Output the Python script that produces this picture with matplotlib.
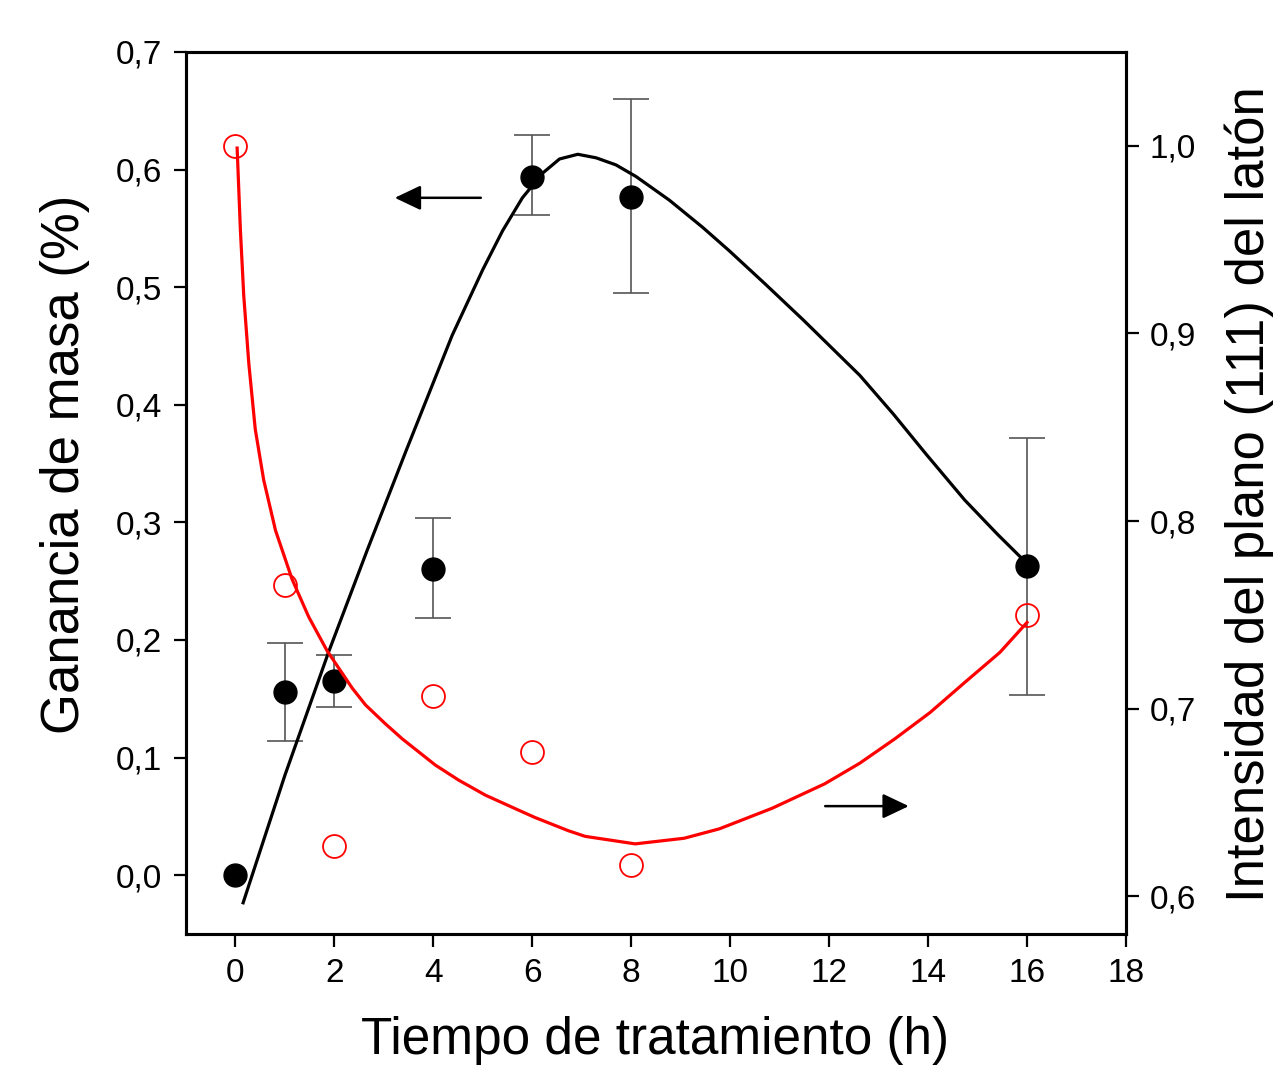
import numpy as np
import matplotlib.pyplot as plt

plt.rcParams['font.family'] = ['Liberation Sans', 'DejaVu Sans']

# masa (eje izquierdo)
t = [0, 1, 2, 4, 6, 8, 16]
masa = [0.0, 0.156, 0.165, 0.260, 0.594, 0.577, 0.263]
masa_lo = [0.0, 0.114, 0.143, 0.219, 0.561, 0.495, 0.153]
masa_hi = [0.0, 0.197, 0.187, 0.304, 0.629, 0.660, 0.372]

# intensidad (eje derecho)
intens = [1.0, 0.766, 0.627, 0.707, 0.677, 0.617, 0.750]

# curvas de ajuste
fit_masa_x = [0.155, 1.0, 1.885, 2.66, 3.45, 4.38, 5.0, 5.40, 5.80, 6.21, 6.55, 6.92, 7.29,
              7.69, 8.10, 8.77, 9.44, 9.98, 10.7, 11.48, 12.62, 13.3, 13.96, 14.74, 15.4, 16.0]
fit_masa_y = [-0.0235, 0.085, 0.190, 0.276, 0.361, 0.459, 0.515, 0.548, 0.576, 0.597, 0.609, 0.613, 0.610,
              0.604, 0.594, 0.574, 0.551, 0.531, 0.503, 0.472, 0.425, 0.392, 0.358, 0.319, 0.290, 0.265]

fit_int_x = [0.034, 0.10, 0.168, 0.27, 0.40, 0.57, 0.81, 1.145, 1.48, 1.85, 2.36, 2.63, 3.03, 3.37,
             4.04, 4.51, 5.05, 5.72, 6.06, 6.73, 7.07, 8.08, 9.07, 9.78, 10.85, 11.91, 12.62,
             13.33, 14.04, 14.74, 15.45, 16.0]
fit_int_y = [0.9988, 0.955, 0.920, 0.884, 0.849, 0.822, 0.795, 0.769, 0.749, 0.731, 0.711, 0.702, 0.692, 0.684,
             0.670, 0.662, 0.654, 0.646, 0.642, 0.635, 0.632, 0.628, 0.631, 0.636, 0.647, 0.660, 0.671,
             0.684, 0.698, 0.714, 0.730, 0.746]

# flechas (coordenadas del eje izquierdo)
arrow_left = [(4.96, 0.576), (3.22, 0.576)]
arrow_right = [(11.92, 0.0587), (13.61, 0.0587)]

fig = plt.figure(figsize=(12.73, 10.74), dpi=100)
ax = fig.add_axes([0.1461, 0.1304, 0.7384, 0.8212])
ax2 = ax.twinx()

ax.plot(fit_masa_x, fit_masa_y, color='black', lw=2.3, zorder=3, solid_joinstyle='round')
m = np.array(masa)
yerr = [m - np.array(masa_lo), np.array(masa_hi) - m]
ax.errorbar(t[1:], masa[1:], yerr=[yerr[0][1:], yerr[1][1:]], fmt='none',
            ecolor='#555555', elinewidth=1.2, capsize=13, capthick=1.2, zorder=2)
ax.plot(t, masa, 'o', color='black', ms=16.5, zorder=4)

ax2.plot(fit_int_x, fit_int_y, color='#ff0000', lw=2.3, zorder=3, solid_joinstyle='round')
ax2.plot(t, intens, 'o', mfc='none', mec='#ff0000', mew=1.3, ms=16.5, zorder=4)

for a in (arrow_left, arrow_right):
    ax.annotate('', xy=a[1], xytext=a[0],
                arrowprops=dict(arrowstyle='-|>,head_length=0.8,head_width=0.38',
                                mutation_scale=20, color='black', lw=1.8,
                                shrinkA=0, shrinkB=0))

ax.set_xlim(-1, 18)
ax.set_ylim(-0.05, 0.7)
ax2.set_ylim(0.58, 1.05)
ax.set_xticks(range(0, 19, 2))
left_ticks = [0.0, 0.1, 0.2, 0.3, 0.4, 0.5, 0.6, 0.7]
right_ticks = [0.6, 0.7, 0.8, 0.9, 1.0]
ax.set_yticks(left_ticks)
ax.set_yticklabels([('%.1f' % v).replace('.', ',') for v in left_ticks])
ax2.set_yticks(right_ticks)
ax2.set_yticklabels([('%.1f' % v).replace('.', ',') for v in right_ticks])

for a in (ax, ax2):
    for s in a.spines.values():
        s.set_linewidth(2.2)
    a.tick_params(direction='out', length=9, width=1.6, labelsize=24, pad=8)

ax.set_xlabel('Tiempo de tratamiento (h)', fontsize=37)
ax.xaxis.set_label_coords(0.499, -0.093)
ax.xaxis.label.set_verticalalignment('top')

ax.set_ylabel('Ganancia de masa (%)', fontsize=38)
ax.yaxis.set_label_coords(-0.1287, 0.532)
ax.yaxis.label.set_verticalalignment('center')
ax2.set_ylabel('Intensidad del plano (111) del latón', fontsize=38)
ax2.yaxis.set_label_coords(1.132, 0.499)
ax2.yaxis.label.set_verticalalignment('center')

fig.savefig('out.png', dpi=100)
